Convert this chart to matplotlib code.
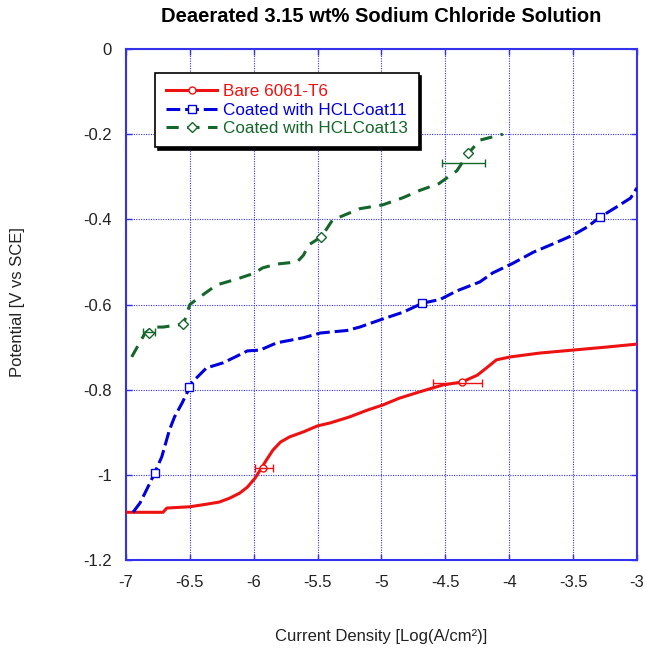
import matplotlib
matplotlib.use('Agg')
import matplotlib.pyplot as plt
from matplotlib.lines import Line2D

plt.rcParams['font.family'] = ['Liberation Sans', 'DejaVu Sans']

# Bare 6061-T6
bare_x = [-7.0, -6.71, -6.68, -6.5, -6.37, -6.27, -6.19, -6.11, -6.05, -5.99, -5.95, -5.90,
          -5.85, -5.79, -5.72, -5.61, -5.50, -5.40, -5.25, -5.11, -4.99, -4.86, -4.70, -4.52,
          -4.37, -4.25, -4.17, -4.10, -3.99, -3.76, -3.50, -3.24, -3.0]
bare_y = [-1.088, -1.088, -1.078, -1.075, -1.069, -1.064, -1.055, -1.043, -1.029, -1.008, -0.989, -0.965,
          -0.942, -0.923, -0.911, -0.899, -0.885, -0.878, -0.864, -0.848, -0.836, -0.820, -0.805, -0.789,
          -0.782, -0.766, -0.747, -0.730, -0.723, -0.714, -0.707, -0.700, -0.693]

# Coated with HCLCoat11
c11_x = [-6.945, -6.89, -6.84, -6.79, -6.72, -6.66, -6.62, -6.56, -6.51, -6.48, -6.40, -6.37,
         -6.24, -6.13, -6.05, -5.95, -5.82, -5.61, -5.48, -5.27, -5.17, -4.99, -4.83, -4.68,
         -4.54, -4.41, -4.23, -4.13, -3.97, -3.81, -3.66, -3.50, -3.39, -3.29, -3.16, -3.05, -3.0]
c11_y = [-1.088, -1.066, -1.036, -1.005, -0.958, -0.895, -0.864, -0.831, -0.80, -0.782, -0.758, -0.749,
         -0.737, -0.721, -0.709, -0.707, -0.69, -0.678, -0.667, -0.661, -0.653, -0.634, -0.618, -0.597,
         -0.588, -0.568, -0.547, -0.526, -0.503, -0.477, -0.458, -0.437, -0.418, -0.395, -0.371, -0.35, -0.326]

# Coated with HCLCoat13
c13_x = [-6.955, -6.85, -6.79, -6.71, -6.55, -6.5, -6.42, -6.29, -6.13, -6.0, -5.93, -5.82,
         -5.66, -5.61, -5.57, -5.47, -5.38, -5.33, -5.17, -4.99, -4.83, -4.70, -4.55, -4.41,
         -4.32, -4.23, -4.05]
c13_y = [-0.723, -0.667, -0.653, -0.653, -0.646, -0.60, -0.582, -0.554, -0.540, -0.527, -0.514, -0.505,
         -0.50, -0.484, -0.46, -0.441, -0.40, -0.395, -0.375, -0.366, -0.349, -0.332, -0.316, -0.286,
         -0.245, -0.214, -0.20]

# marker points
bare_mx = [-5.93, -4.37]
bare_my = [-0.984, -0.782]
c11_mx = [-6.77, -6.51, -4.68, -3.29]
c11_my = [-0.996, -0.794, -0.597, -0.395]
c13_mx = [-6.82, -6.55, -5.47, -4.32]
c13_my = [-0.667, -0.646, -0.441, -0.245]

# error bars (center x, y, half width)
bare_ex = [-5.92, -4.405]
bare_ey = [-0.984, -0.785]
bare_err = [0.07, 0.195]
c13_ex = [-6.82, -4.36]
c13_ey = [-0.664, -0.268]
c13_err = [0.05, 0.17]

xticks = [-7, -6.5, -6, -5.5, -5, -4.5, -4, -3.5, -3]
xlabels = ['-7', '-6.5', '-6', '-5.5', '-5', '-4.5', '-4', '-3.5', '-3']
yticks = [0, -0.2, -0.4, -0.6, -0.8, -1, -1.2]
ylabels = ['0', '-0.2', '-0.4', '-0.6', '-0.8', '-1', '-1.2']

red = '#ee1111'
blue = '#0000dd'
green = '#15662a'
axblue = '#3333ee'

fig = plt.figure(figsize=(6.47, 6.51), dpi=100)
ax = fig.add_axes([0.1947, 0.1398, 0.7898, 0.7849])

lw = 2.2
ax.plot(bare_x, bare_y, color=red, lw=lw, zorder=3)
ax.plot(c11_x, c11_y, color=blue, lw=lw, dashes=(4.5, 1.6), zorder=3)
ax.plot(c13_x, c13_y, color=green, lw=lw, dashes=(4.0, 2.8), zorder=3)

ax.plot(bare_mx, bare_my, 'o', ms=5, mfc='white', mec=red, mew=1, zorder=4)
ax.plot(c11_mx, c11_my, 's', ms=6, mfc='white', mec=blue, mew=1, zorder=4)
ax.plot(c13_mx, c13_my, 'D', ms=5, mfc='white', mec=green, mew=1, zorder=4)

ax.errorbar(bare_ex, bare_ey, xerr=bare_err, fmt='none', ecolor=red, elinewidth=1, capsize=3, capthick=1, zorder=4)
ax.errorbar(c13_ex, c13_ey, xerr=c13_err, fmt='none', ecolor=green, elinewidth=1, capsize=3, capthick=1, zorder=4)

ax.set_xlim(-7, -3)
ax.set_ylim(-1.2, 0)
ax.set_xticks(xticks)
ax.set_xticklabels(xlabels)
ax.set_yticks(yticks)
ax.set_yticklabels(ylabels)
ax.tick_params(direction='in', length=4, width=1, color=axblue, labelcolor='#222222',
               labelsize=12, top=True, right=True)
ax.tick_params(axis='x', pad=11)
ax.tick_params(axis='y', pad=10)
ax.grid(True, color=axblue, linestyle=(0, (1, 1.2)), lw=0.8)
for s in ax.spines.values():
    s.set_color(axblue)
    s.set_linewidth(1.5)

handles = [
    Line2D([], [], color=red, lw=lw, marker='o', ms=5, mfc='white', mec=red),
    Line2D([], [], color=blue, lw=lw, dashes=(4.5, 1.6), marker='s', ms=6, mfc='white', mec=blue),
    Line2D([], [], color=green, lw=lw, dashes=(4.0, 2.8), marker='D', ms=5, mfc='white', mec=green),
]
labels = ['Bare 6061-T6', 'Coated with HCLCoat11', 'Coated with HCLCoat13']
leg = ax.legend(handles, labels, loc='upper left', bbox_to_anchor=(0.057, 0.953),
                fontsize=12.3, handlelength=3.0, handletextpad=0.3, labelspacing=0.2,
                borderaxespad=0, borderpad=0.65, fancybox=False, framealpha=1,
                edgecolor='black', labelcolor='linecolor',
                shadow={'color': 'black', 'alpha': 1})
leg.get_frame().set_linewidth(1.2)

fig.text(0.589, 1 - 17 / 651, 'Deaerated 3.15 wt% Sodium Chloride Solution',
         ha='center', va='center', fontsize=14.5, fontweight='bold')
fig.text(0.589, 1 - 636 / 651, 'Current Density [Log(A/cm²)]',
         ha='center', va='center', fontsize=12, color='#222222')
fig.text(18 / 647, 1 - 302 / 651, 'Potential [V vs SCE]', rotation=90,
         ha='center', va='center', fontsize=12, color='#222222')

fig.savefig('out.png', dpi=100)
